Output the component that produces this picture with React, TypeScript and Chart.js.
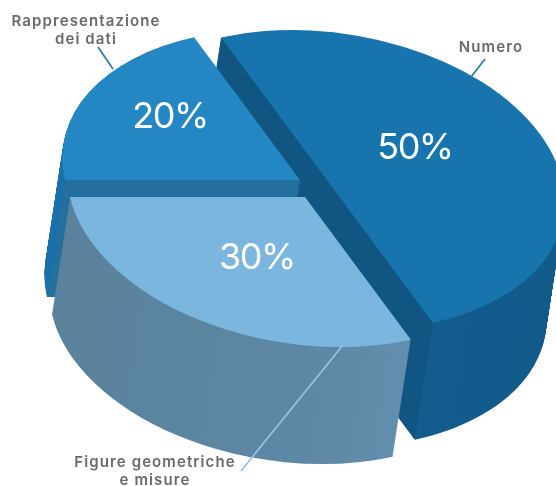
import React, { useEffect, useRef } from "react";
import { Chart, registerables } from "chart.js";

Chart.register(...registerables);

// Shares of the assessment areas, clockwise from the upper-left cut
const categories = ["Numero", "Figure geometriche e misure", "Rappresentazione dei dati"];
const shares = [50, 30, 20];

// Per-slice styling, in the same order as the shares
const topColors = ["#1874ac", "#7bb6de", "#2586c4"];
const wallStops = [
  ["#125b8b", "#135e90", "#115a8a"],
  ["#5a829d", "#5e88a6", "#6c9cbc"],
  ["#1a70aa", "#1b72ad", "#1c74ae"],
];
const cutColors = ["#115683", "#5a829d", "#23709f"];
const explode = [12.5, 16.2, 6.6];
const sideDrift = [0, 7.6, 0];
const paintOrder = [0, 2, 1];

// Projection of the flat disc onto the tilted view
const VIEW = { cx: 309.25, cy: 183.9, ax: 235, bx: 35, by: 150, depthX: -18, depthY: 117, unit: 150 };

const valueLabels = [
  { slice: 0, x: 415, y: 148 },
  { slice: 1, x: 257, y: 258 },
  { slice: 2, x: 170, y: 117 },
];
const nameLabels = [
  { lines: ["Numero"], x: 491, y: 47 },
  { lines: ["Figure geometriche", "e misure"], x: 155, y: 462 },
  { lines: ["Rappresentazione", "dei dati"], x: 86, y: 21 },
];
const leaders = [
  { color: "#2f7fa9", from: [485, 59], to: [471, 77] },
  { color: "#93c4e3", from: [343, 345], to: [241, 471] },
  { color: "#2f7fa9", from: [98, 47], to: [113, 69] },
];

const project = (cos: number, sin: number) => ({
  x: VIEW.ax * cos + VIEW.bx * sin,
  y: VIEW.by * sin,
});

const solidSlices = {
  id: "solidSlices",
  beforeDatasetsDraw(chart: any) {
    const ctx: CanvasRenderingContext2D = chart.ctx;
    const arcs = chart.getDatasetMeta(0).data;

    paintOrder.forEach((i) => {
      const arc = arcs[i];
      const R = arc.outerRadius;
      const mid = (arc.startAngle + arc.endAngle) / 2;
      const push = project(Math.cos(mid), Math.sin(mid));
      const ox = VIEW.cx + (push.x * explode[i]) / VIEW.unit + sideDrift[i];
      const oy = VIEW.cy + (push.y * explode[i]) / VIEW.unit;
      const baseOptions = arc.options;

      const place = (dx: number, dy: number) => {
        ctx.setTransform(VIEW.ax / R, 0, VIEW.bx / R, VIEW.by / R, ox + dx, oy + dy);
        ctx.translate(-arc.x, -arc.y);
      };
      const paint = (fill: string | CanvasGradient) => {
        arc.options = { ...baseOptions, backgroundColor: fill, borderWidth: 0 };
        arc.draw(ctx);
      };

      ctx.save();

      // Outer wall: the slice swept along the depth direction
      place(0, 0);
      const wall = ctx.createLinearGradient(arc.x - R, 0, arc.x + R, 0);
      wallStops[i].forEach((c, k) => wall.addColorStop(k / (wallStops[i].length - 1), c));
      for (let k = VIEW.depthY; k >= 1; k--) {
        place((VIEW.depthX * k) / VIEW.depthY, k);
        paint(wall);
      }

      // Cut faces whose outward side looks towards the viewer
      ctx.setTransform(1, 0, 0, 1, 0, 0);
      const inward = project(Math.cos(mid), Math.sin(mid));
      [arc.startAngle, arc.endAngle].forEach((angle: number) => {
        const e = project(Math.cos(angle), Math.sin(angle));
        const toDepth = e.x * VIEW.depthY - e.y * VIEW.depthX;
        const toInside = e.x * inward.y - e.y * inward.x;
        if (Math.sign(toDepth) === Math.sign(toInside)) return;
        ctx.beginPath();
        ctx.moveTo(ox, oy);
        ctx.lineTo(ox + e.x, oy + e.y);
        ctx.lineTo(ox + e.x + VIEW.depthX, oy + e.y + VIEW.depthY);
        ctx.lineTo(ox + VIEW.depthX, oy + VIEW.depthY);
        ctx.closePath();
        ctx.fillStyle = cutColors[i];
        ctx.fill();
      });

      // Top face
      place(0, 0);
      paint(topColors[i]);

      arc.options = baseOptions;
      ctx.restore();
    });

    ctx.save();
    ctx.setTransform(1, 0, 0, 1, 0, 0);
    ctx.textAlign = "center";
    ctx.textBaseline = "middle";

    leaders.forEach((l) => {
      ctx.beginPath();
      ctx.moveTo(l.from[0], l.from[1]);
      ctx.lineTo(l.to[0], l.to[1]);
      ctx.strokeStyle = l.color;
      ctx.lineWidth = 1.8;
      ctx.stroke();
    });

    ctx.fillStyle = "#ffffff";
    ctx.font = "400 36px Inter";
    (ctx as any).letterSpacing = "-1.5px";
    valueLabels.forEach((v) => ctx.fillText(`${shares[v.slice]}%`, v.x, v.y));

    ctx.fillStyle = "#6a6a6a";
    ctx.font = "600 15px Inter";
    (ctx as any).letterSpacing = "1.1px";
    nameLabels.forEach((n) =>
      n.lines.forEach((line, k) => ctx.fillText(line, n.x, n.y + k * 18))
    );
    ctx.restore();

    return false;
  },
};

export default function App() {
  const ref = useRef<HTMLCanvasElement>(null);

  useEffect(() => {
    const chart = new Chart(ref.current!, {
      type: "pie",
      data: {
        labels: categories,
        datasets: [{ data: shares, backgroundColor: topColors, borderWidth: 0 }],
      },
      options: {
        animation: false,
        responsive: false,
        devicePixelRatio: 1,
        rotation: 342,
        events: [],
        plugins: { legend: { display: false }, tooltip: { enabled: false } },
      },
      plugins: [solidSlices],
    } as any);
    return () => chart.destroy();
  }, []);

  return (
    <div style={{ position: "absolute", left: 0, top: 0, width: 556, height: 486, background: "#fff" }}>
      <canvas ref={ref} width={556} height={486} style={{ display: "block" }} />
    </div>
  );
}
